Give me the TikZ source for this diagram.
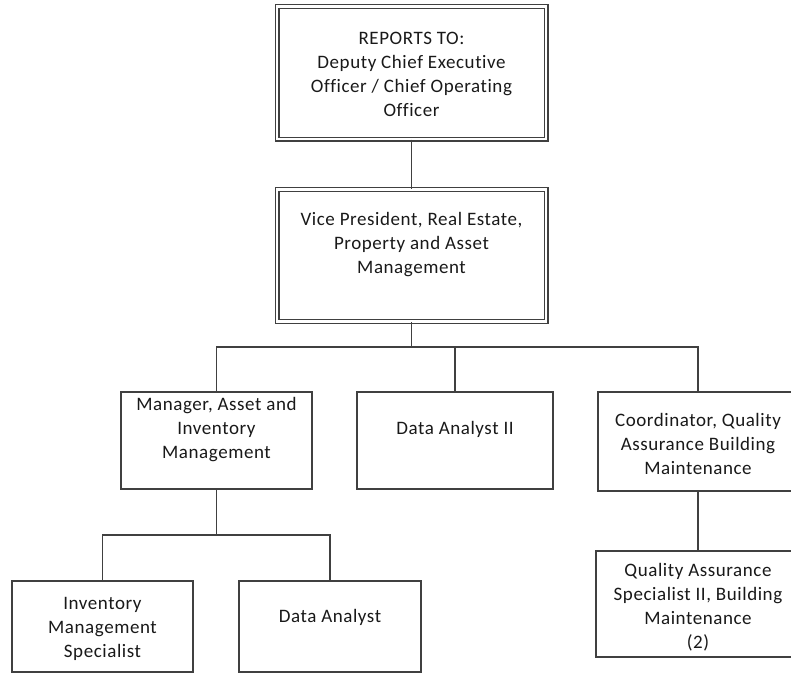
\documentclass[tikz,border=0pt]{standalone}
\usepackage{fontspec}
\setmainfont{Carlito}[LetterSpace=3,Ligatures=NoCommon]
\begin{document}
\begin{tikzpicture}[x=1pt,y=-1pt,
  line/.style={draw=black!75,line width=1.3pt},
  box/.style={line,rectangle,inner sep=0pt,fill=white},
  dblbox/.style={draw=black!75,line width=1.2pt,double=white,double distance=2.6pt,rectangle,inner sep=0pt},
  txt/.style={align=center,inner sep=0pt,font=\fontsize{19}{24}\selectfont,text=black!90}]
\useasboundingbox (0,0) rectangle (791,674);

% boxes
\node[dblbox,minimum width=269pt,minimum height=132.5pt] (top) at (411.5,72.75) {};
\node[dblbox,minimum width=269pt,minimum height=132pt] (vp) at (411.5,255.5) {};
\node[box,minimum width=191pt,minimum height=97pt] (mgr) at (216.5,440.5) {};
\node[box,minimum width=196pt,minimum height=97pt] (da2) at (455,440.5) {};
\node[box,minimum width=200pt,minimum height=99pt] (coord) at (698,441.5) {};
\node[box,minimum width=181pt,minimum height=91pt] (inv) at (102.5,626.5) {};
\node[box,minimum width=182pt,minimum height=91pt] (da) at (330,626.5) {};
\node[box,minimum width=204pt,minimum height=106pt] (qa) at (698,604) {};

% labels
\node[txt] (top-t) at (411.5,74) {REPORTS TO:\\Deputy Chief Executive\\Officer / Chief Operating\\Officer};
\node[txt] (vp-t) at (411.5,245) {Vice President, Real Estate,\\Property and Asset\\Management};
\node[txt] (mgr-t) at (216.5,430) {Manager, Asset and\\Inventory\\Management};
\node[txt] (da2-t) at (455,429.5) {Data Analyst II};
\node[txt] (coord-t) at (698,443.5) {Coordinator, Quality\\Assurance Building\\Maintenance};
\node[txt] (inv-t) at (102.5,628.5) {Inventory\\Management\\Specialist};
\node[txt] (da-t) at (330,617.5) {Data Analyst};
\node[txt] (qa-t) at (698,607) {Quality Assurance\\Specialist II, Building\\Maintenance\\(2)};

% reporting lines
\coordinate (bus1) at (411.5,347);
\coordinate (bus2) at (216.5,535);
\draw[line] (top.south) -- (vp.north);
\draw[line] (vp.south) -- (bus1);
\draw[line] (mgr.north) |- (bus1) -| (coord.north);
\draw[line] (da2.north) -- (da2.north |- bus1);
\draw[line] (mgr.south) -- (bus2);
\draw[line] (inv.north) |- (bus2) -| (da.north);
\draw[line] (coord.south) -- (qa.north);
\end{tikzpicture}
\end{document}
